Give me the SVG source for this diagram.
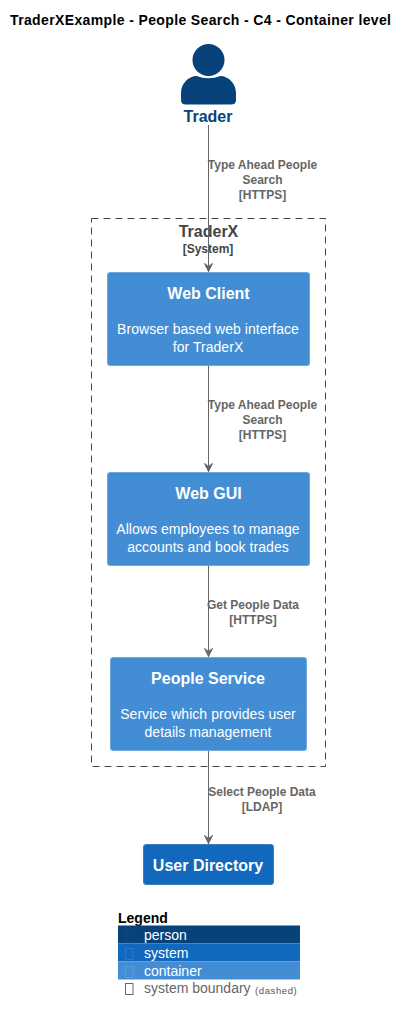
<svg xmlns="http://www.w3.org/2000/svg" width="408" height="1022" viewBox="0 0 408 1022">
<defs>
<marker id="arrow" markerWidth="10" markerHeight="11" refX="9" refY="5.500" orient="auto" markerUnits="userSpaceOnUse"><path d="M0.500,1.500 L3.500,5.500 L0.500,9.500 L8.500,5.500 Z" fill="#666666" stroke="#666666" stroke-width="1"/></marker>
</defs>
<style>
text{font-family:"Liberation Sans",Arial,sans-serif;text-anchor:middle}
.title{font-size:14px;font-weight:bold;fill:#000}
.rel{font-size:12px;font-weight:bold;fill:#666666}
.name{font-size:16px;font-weight:bold;fill:#fff}
.desc{font-size:14px;fill:#fff;letter-spacing:.05px}
.box{fill:#438DD5;stroke:#6FA8DC;stroke-width:1}
.line{stroke:#666666;stroke-width:1;fill:none;marker-end:url(#arrow)}
.lg{font-size:14px;text-anchor:start;fill:#fff}
.tofu{fill:none;stroke-width:1}
</style>
<rect width="408" height="1022" fill="#fff"/>
<text class="title" x="200.500" y="25" textLength="381">TraderXExample - People Search - C4 - Container level</text>
<g id="boundary-traderx">
<rect x="91.500" y="218.500" width="234" height="548" fill="none" stroke="#444444" stroke-dasharray="7,5"/>
<text x="208.500" y="237" font-size="16" font-weight="bold" fill="#444444">TraderX</text>
<text x="208" y="253" font-size="12" font-weight="bold" fill="#444444">[System]</text>
</g>
<g id="connectors">
<line class="line" x1="208.500" y1="125" x2="208.500" y2="272"/>
<line class="line" x1="208.500" y1="365" x2="208.500" y2="472"/>
<line class="line" x1="208.500" y1="565" x2="208.500" y2="657"/>
<line class="line" x1="208.500" y1="750" x2="208.500" y2="844"/>
<text class="rel" x="262.500" y="169">Type Ahead People</text>
<text class="rel" x="262.500" y="184">Search</text>
<text class="rel" x="262.500" y="199">[HTTPS]</text>
<text class="rel" x="262.500" y="409">Type Ahead People</text>
<text class="rel" x="262.500" y="424">Search</text>
<text class="rel" x="262.500" y="439">[HTTPS]</text>
<text class="rel" x="253" y="609">Get People Data</text>
<text class="rel" x="253" y="624">[HTTPS]</text>
<text class="rel" x="262" y="796">Select People Data</text>
<text class="rel" x="262" y="811">[LDAP]</text>
</g>
<g id="trader">
<circle cx="208.500" cy="60" r="16" fill="#08427B"/>
<path d="M181,100 Q181,104.500 186,104.500 L231,104.500 Q236,104.500 236,100 L236,93 C236,84 229,76 220,76 C213,79 204,79 197,76 C188,76 181,84 181,93 Z" fill="#08427B"/>
<text x="208" y="122" font-size="16" font-weight="bold" fill="#08427B">Trader</text>
</g>
<g id="web-client">
<rect class="box" x="107.500" y="272.500" width="202" height="93" rx="2.500"/>
<text class="name" x="208.500" y="299">Web Client</text>
<text class="desc" x="208" y="334">Browser based web interface</text>
<text class="desc" x="208" y="352">for TraderX</text>
</g>
<g id="web-gui">
<rect class="box" x="107.500" y="472.500" width="202" height="93" rx="2.500"/>
<text class="name" x="208.500" y="499">Web GUI</text>
<text class="desc" x="208" y="534">Allows employees to manage</text>
<text class="desc" x="208" y="552">accounts and book trades</text>
</g>
<g id="people-service">
<rect class="box" x="110.500" y="657.500" width="196" height="93" rx="2.500"/>
<text class="name" x="208" y="684">People Service</text>
<text class="desc" x="208" y="719">Service which provides user</text>
<text class="desc" x="208" y="737">details management</text>
</g>
<g id="user-directory">
<rect x="143.500" y="844.500" width="130" height="40" rx="2.500" fill="#1168BD" stroke="#3C7FC0"/>
<text class="name" x="208" y="871">User Directory</text>
</g>
<g id="legend">
<text x="118" y="923" font-size="14" font-weight="bold" fill="#000" style="text-anchor:start">Legend</text>
<rect x="118" y="925.500" width="182" height="18" fill="#08427B"/>
<rect x="118" y="943.500" width="182" height="18" fill="#1168BD"/>
<rect x="118" y="961.500" width="182" height="18" fill="#438DD5"/>
<rect class="tofu" x="125.500" y="930.500" width="7.500" height="11" stroke="#0A4A88"/>
<rect class="tofu" x="125.500" y="948.500" width="7.500" height="11" stroke="#2A78C4"/>
<rect class="tofu" x="125.500" y="966.500" width="7.500" height="11" stroke="#5A9BDB"/>
<rect class="tofu" x="125.500" y="983.500" width="7.500" height="11" stroke="#666666"/>
<text class="lg" x="144" y="940">person</text>
<text class="lg" x="144" y="958">system</text>
<text class="lg" x="144" y="976">container</text>
<text class="lg" x="144" y="993" style="fill:#666666">system boundary</text>
<text x="255" y="994" font-size="9.500" fill="#555555" letter-spacing=".6" style="text-anchor:start">(dashed)</text>
</g>
</svg>
